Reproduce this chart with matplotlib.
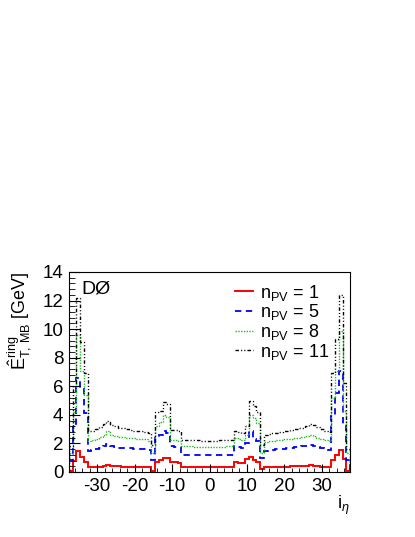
import numpy as np
import matplotlib
matplotlib.use("Agg")
import matplotlib.pyplot as plt

plt.rcParams["font.family"] = ["Liberation Sans", "DejaVu Sans"]
plt.rcParams["mathtext.fontset"] = "custom"
plt.rcParams["mathtext.rm"] = "Liberation Sans"
plt.rcParams["mathtext.it"] = "Liberation Sans:italic"
plt.rcParams["mathtext.bf"] = "Liberation Sans:bold"
plt.rcParams["axes.unicode_minus"] = False

# calorimeter ring index, bins centred on -37 ... 37
i_eta = np.arange(-37, 38)

et_npv1 = [0.1, 0.75, 1.45, 1.05, 0.7,
           0.35, 0.35, 0.36, 0.38, 0.42, 0.46, 0.42, 0.40, 0.39, 0.38, 0.37,
           0.37, 0.36, 0.36, 0.35, 0.34, 0.33,
           0.08, 0.72, 0.84, 1.0, 0.95, 0.68, 0.68, 0.66, 0.38,
           0.37, 0.36, 0.37, 0.36, 0.36, 0.35, 0.35, 0.35, 0.36, 0.36, 0.37, 0.36, 0.37,
           0.72, 0.66, 0.62, 0.9, 1.02, 0.85, 0.7, 0.2,
           0.36, 0.36, 0.37, 0.37, 0.38, 0.38, 0.38, 0.39, 0.39, 0.40, 0.41,
           0.43, 0.46, 0.43, 0.40, 0.38, 0.36, 0.35,
           0.84, 1.2, 1.55, 0.9, 0.1]

et_npv5 = [0.85, 3.3, 6.6, 5.8, 4.1,
           1.5, 1.55, 1.6, 1.7, 1.8, 1.95, 1.8, 1.72, 1.7, 1.68, 1.65,
           1.65, 1.62, 1.62, 1.6, 1.58, 1.55,
           0.85, 2.4, 2.6, 2.9, 2.75, 1.8, 1.78, 1.75, 1.2,
           1.2, 1.2, 1.19, 1.2, 1.18, 1.18, 1.17, 1.18, 1.18, 1.19, 1.2, 1.2, 1.21,
           1.8, 1.75, 1.7, 2.0, 2.9, 2.3, 2.2, 0.95,
           1.5, 1.52, 1.55, 1.58, 1.6, 1.62, 1.65, 1.7, 1.72, 1.75, 1.8,
           1.85, 1.9, 1.85, 1.75, 1.65, 1.6, 1.55,
           4.0, 5.5, 7.1, 3.3, 0.85]

et_npv8 = [1.3, 4.2, 9.6, 7.1, 5.4,
           2.2, 2.25, 2.3, 2.45, 2.6, 2.85, 2.6, 2.5, 2.45, 2.42, 2.4,
           2.38, 2.35, 2.33, 2.3, 2.28, 2.2,
           1.3, 3.2, 3.5, 4.0, 3.85, 2.25, 2.22, 2.2, 1.8,
           1.8, 1.8, 1.78, 1.78, 1.77, 1.76, 1.76, 1.76, 1.77, 1.78, 1.78, 1.8, 1.8,
           2.35, 2.3, 2.25, 2.6, 4.0, 3.8, 3.4, 1.3,
           2.1, 2.15, 2.2, 2.22, 2.25, 2.28, 2.3, 2.33, 2.36, 2.4, 2.45,
           2.5, 2.6, 2.5, 2.4, 2.3, 2.25, 2.2,
           5.2, 7.1, 9.9, 4.3, 1.3]

et_npv11 = [1.8, 6.0, 12.2, 9.1, 6.9,
            2.85, 2.9, 3.0, 3.15, 3.35, 3.6, 3.3, 3.2, 3.1, 3.05, 3.0,
            2.95, 2.9, 2.9, 2.85, 2.8, 2.7,
            1.9, 4.2, 4.3, 4.9, 4.75, 2.95, 2.95, 2.9, 2.25,
            2.25, 2.25, 2.22, 2.22, 2.2, 2.2, 2.2, 2.2, 2.2, 2.22, 2.22, 2.25, 2.25,
            2.9, 2.8, 2.75, 3.2, 5.0, 4.6, 4.2, 1.9,
            2.6, 2.65, 2.7, 2.75, 2.8, 2.85, 2.9, 2.95, 3.0, 3.05, 3.1,
            3.2, 3.35, 3.3, 3.15, 3.0, 2.9, 2.8,
            6.9, 9.3, 12.4, 6.2, 1.6]

npv_labels = ["1", "5", "8", "11"]

edges = np.append(i_eta - 0.5, i_eta[-1] + 0.5)

fig = plt.figure(figsize=(4.15, 5.37), dpi=100)
ax = fig.add_axes([69 / 415, 65 / 537, 281 / 415, 200 / 537])

styles = [
    dict(color="#ff0000", linestyle="-", linewidth=1.4),
    dict(color="#0000ff", linestyle=(0, (3.5, 2.5)), linewidth=1.3),
    dict(color="#22bb22", linestyle=(0, (1, 1)), linewidth=1.0),
    dict(color="#000000", linestyle=(0, (2.5, 1.5, 0.8, 1.5, 0.8, 1.5)), linewidth=1.0),
]
series = [et_npv1, et_npv5, et_npv8, et_npv11]

handles = []
for vals, st in zip(series, styles):
    ax.stairs(vals, edges, baseline=0, **st)
    handles.append(plt.Line2D([], [], **st))

ax.set_xlim(-37.5, 37.5)
ax.set_ylim(0, 14)
ax.set_xticks([-30, -20, -10, 0, 10, 20, 30])
ax.set_xticks(np.arange(-36, 37, 2), minor=True)
ax.set_yticks(np.arange(0, 15, 2))
ax.set_yticks(np.arange(0, 14.01, 0.4), minor=True)
ax.tick_params(which="both", direction="in", top=False, right=False, labelsize=13.5)
ax.tick_params(axis="x", which="major", length=6, pad=4)
ax.tick_params(axis="x", which="minor", length=3)
ax.tick_params(axis="y", which="major", length=8, pad=4)
ax.tick_params(axis="y", which="minor", length=4)
for sp in ax.spines.values():
    sp.set_linewidth(0.8)

ax.text(0.045, 0.955, "DØ", transform=ax.transAxes, ha="left", va="top", fontsize=14)

fig.text(20 / 415, 1 - 272 / 537,
         r"$\hat{\mathrm{E}}^{\mathrm{ring}}_{\mathrm{T,\,MB}}$ [GeV]",
         rotation=90, ha="center", va="top", fontsize=13)
fig.text(350 / 415, 1 - 505 / 537, r"i$_{\eta}$", ha="right", va="center", fontsize=13)

ax.legend(handles, [r"n$_{\mathrm{PV}}$ = " + l for l in npv_labels],
          loc="upper right", bbox_to_anchor=(0.97, 1.01), frameon=False,
          fontsize=13, handlelength=1.0, handletextpad=0.4, labelspacing=-0.02,
          borderaxespad=0.3)

fig.savefig("out.png", dpi=100)
